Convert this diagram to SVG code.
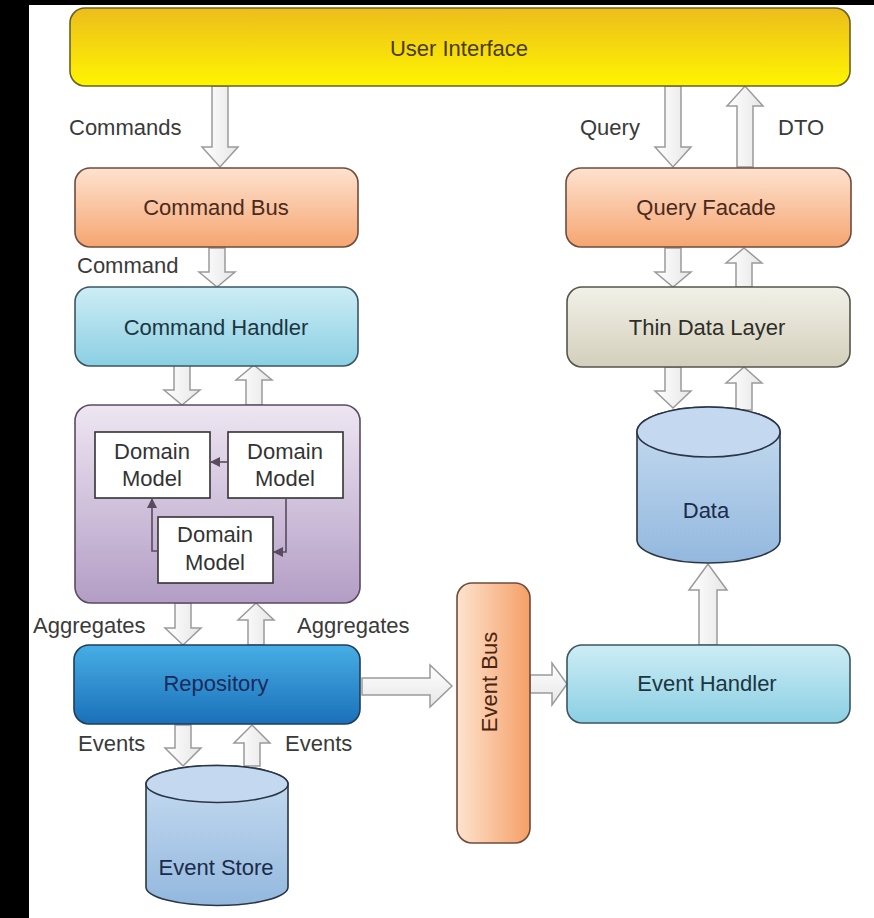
<svg xmlns="http://www.w3.org/2000/svg" width="874" height="918" viewBox="0 0 874 918">
<defs>
<linearGradient id="gUI" x1="0" y1="0" x2="0" y2="1"><stop offset="0" stop-color="#ecbd1c"/><stop offset="1" stop-color="#fff500"/></linearGradient>
<linearGradient id="gOr" x1="0" y1="0" x2="0" y2="1"><stop offset="0" stop-color="#fde2cf"/><stop offset="1" stop-color="#f6a571"/></linearGradient>
<linearGradient id="gOrH" x1="0" y1="0" x2="1" y2="0"><stop offset="0" stop-color="#fde3cf"/><stop offset="1" stop-color="#f59f66"/></linearGradient>
<linearGradient id="gBl" x1="0" y1="0" x2="0" y2="1"><stop offset="0" stop-color="#cdedf5"/><stop offset="1" stop-color="#8bcfe3"/></linearGradient>
<linearGradient id="gTd" x1="0" y1="0" x2="0" y2="1"><stop offset="0" stop-color="#f2f1e8"/><stop offset="1" stop-color="#d3cfbc"/></linearGradient>
<linearGradient id="gPu" x1="0" y1="0" x2="0" y2="1"><stop offset="0" stop-color="#eee6f2"/><stop offset="1" stop-color="#b39dc5"/></linearGradient>
<linearGradient id="gRe" x1="0" y1="0" x2="0" y2="1"><stop offset="0" stop-color="#47aee5"/><stop offset="1" stop-color="#1a70b9"/></linearGradient>
<linearGradient id="gCy" x1="0" y1="0" x2="0" y2="1"><stop offset="0" stop-color="#c9ddf1"/><stop offset="1" stop-color="#93b8de"/></linearGradient>
<linearGradient id="gAr" x1="0" y1="0" x2="1" y2="0"><stop offset="0" stop-color="#ffffff"/><stop offset="1" stop-color="#e6e6e6"/></linearGradient>
<linearGradient id="gArV" x1="0" y1="0" x2="0" y2="1"><stop offset="0" stop-color="#ffffff"/><stop offset="1" stop-color="#e6e6e6"/></linearGradient>
<marker id="mh" viewBox="0 0 10 10" refX="9" refY="5" markerWidth="10" markerHeight="10" markerUnits="userSpaceOnUse" orient="auto"><path d="M0,0 L10,5 L0,10 Z" fill="#5a4a60"/></marker>
</defs>
<style>
text{font-family:"Liberation Sans",Arial,sans-serif;font-size:22px;text-anchor:middle;dominant-baseline:central}
.lbl{fill:#3a3a3a}
.lblL{text-anchor:start}
.box{stroke-width:1.6}
.arr{fill:url(#gAr);stroke:#9a9a9a;stroke-width:1.5}
.arrV{fill:url(#gArV);stroke:#9a9a9a;stroke-width:1.5}
.dm{fill:#ffffff;stroke:#333333;stroke-width:1.6}
.dml{fill:none;stroke:#5a4a60;stroke-width:1.6}
.cyl{fill:url(#gCy);stroke:#2a3645;stroke-width:1.6}
.cyt{fill:#c4d9ef;stroke:#2a3645;stroke-width:1.6}
</style>
<rect x="0" y="0" width="874" height="918" fill="#ffffff"/>
<rect x="0" y="0" width="29" height="918" fill="#000000"/>
<rect x="0" y="0" width="874" height="5" fill="#000000"/>

<g id="connectors">
  <!-- Commands -->
  <polygon class="arr" points="212,86 228,86 228,147 238,147 220,167 202,147 212,147"/>
  <!-- Query -->
  <polygon class="arr" points="665,86 681,86 681,147 691,147 673,167 655,147 665,147"/>
  <!-- DTO up -->
  <polygon class="arr" points="737,167 753,167 753,106 763,106 745,86 727,106 737,106"/>
  <!-- Command -->
  <polygon class="arr" points="209,248 225,248 225,272 235,272 217,287 199,272 209,272"/>
  <!-- QF -> TDL -->
  <polygon class="arr" points="665,248 681,248 681,272 691,272 673,287 655,272 665,272"/>
  <!-- TDL -> QF -->
  <polygon class="arr" points="736,287 752,287 752,263 762,263 744,248 726,263 736,263"/>
  <!-- CH -> Domain -->
  <polygon class="arr" points="174,365 190,365 190,390 200,390 182,405 164,390 174,390"/>
  <!-- Domain -> CH -->
  <polygon class="arr" points="246,405 262,405 262,380 272,380 254,365 236,380 246,380"/>
  <!-- TDL -> Data -->
  <polygon class="arr" points="665,367 681,367 681,391 691,391 673,408 655,391 665,391"/>
  <!-- Data -> TDL -->
  <polygon class="arr" points="736,410 752,410 752,383 762,383 744,367 726,383 736,383"/>
  <!-- Aggregates down -->
  <polygon class="arr" points="175,603 191,603 191,628 201,628 183,645 165,628 175,628"/>
  <!-- Aggregates up -->
  <polygon class="arr" points="248,645 264,645 264,620 274,620 256,603 238,620 248,620"/>
  <!-- Events down -->
  <polygon class="arr" points="175,725 191,725 191,748 201,748 183,766 165,748 175,748"/>
  <!-- Events up -->
  <polygon class="arr" points="244,766 260,766 260,743 270,743 252,725 234,743 244,743"/>
  <!-- Repository -> Event Bus -->
  <polygon class="arrV" points="362,678 430,678 430,665 452,686 430,707 430,695 362,695"/>
  <!-- Event Bus -> Event Handler -->
  <polygon class="arrV" points="530,675 552,675 552,663 567,684 552,705 552,693 530,693"/>
  <!-- Event Handler -> Data -->
  <polygon class="arr" points="699,645 717,645 717,590 727,590 708,564 689,590 699,590"/>
</g>

<g id="user-interface">
  <rect class="box" x="70" y="8" width="780" height="78" rx="15" fill="url(#gUI)" stroke="#6b6123"/>
  <text x="459" y="48" fill="#4a3c12">User Interface</text>
</g>

<g id="labels">
  <text class="lbl lblL" x="69" y="127">Commands</text>
  <text class="lbl lblL" x="580" y="127">Query</text>
  <text class="lbl lblL" x="778" y="127">DTO</text>
  <text class="lbl lblL" x="77" y="265">Command</text>
  <text class="lbl lblL" x="33" y="625">Aggregates</text>
  <text class="lbl lblL" x="297" y="625">Aggregates</text>
  <text class="lbl lblL" x="78" y="743">Events</text>
  <text class="lbl lblL" x="285" y="743">Events</text>
</g>

<g id="command-bus">
  <rect class="box" x="75" y="168" width="283" height="79" rx="15" fill="url(#gOr)" stroke="#6e4c3c"/>
  <text x="216" y="207" fill="#4a2a1c">Command Bus</text>
</g>

<g id="command-handler">
  <rect class="box" x="75" y="287" width="283" height="79" rx="15" fill="url(#gBl)" stroke="#3b5661"/>
  <text x="216" y="327" fill="#1c3641">Command Handler</text>
</g>

<g id="aggregates">
  <rect class="box" x="75" y="405" width="285" height="198" rx="16" fill="url(#gPu)" stroke="#5a4a62"/>
</g>

<g id="domain-model-1">
  <rect class="dm" x="95" y="432" width="115" height="66"/>
  <text x="152" y="451" fill="#333333">Domain</text>
  <text x="152" y="478" fill="#333333">Model</text>
</g>
<g id="domain-model-2">
  <rect class="dm" x="228" y="432" width="115" height="66"/>
  <text x="285" y="451" fill="#333333">Domain</text>
  <text x="285" y="478" fill="#333333">Model</text>
</g>
<g id="domain-model-3">
  <rect class="dm" x="158" y="517" width="115" height="66"/>
  <text x="215" y="534" fill="#333333">Domain</text>
  <text x="215" y="562" fill="#333333">Model</text>
</g>
<g id="domain-links">
  <path class="dml" d="M228,462 H211" marker-end="url(#mh)"/>
  <path class="dml" d="M286,498 V552 H274" marker-end="url(#mh)"/>
  <path class="dml" d="M158,551 H152 V499" marker-end="url(#mh)"/>
</g>

<g id="repository">
  <rect class="box" x="74" y="645" width="286" height="79" rx="15" fill="url(#gRe)" stroke="#1f3d5c"/>
  <text x="216" y="683" fill="#1b2b5c">Repository</text>
</g>

<g id="event-store">
  <path class="cyl" d="M146,784 A71,18.5 0 0 1 288,784 V887 A71,18.5 0 0 1 146,887 Z"/>
  <ellipse class="cyt" cx="217" cy="784" rx="71" ry="18.5"/>
  <text x="216" y="867" fill="#1b2b4a">Event Store</text>
</g>

<g id="event-bus">
  <rect class="box" x="457" y="583" width="73" height="260" rx="15" fill="url(#gOrH)" stroke="#6e4c3c"/>
  <text transform="translate(489,682) rotate(-90)" x="0" y="0" fill="#4a2412" font-size="23">Event Bus</text>
</g>

<g id="event-handler">
  <rect class="box" x="567" y="645" width="283" height="78" rx="15" fill="url(#gBl)" stroke="#3b5661"/>
  <text x="707" y="683" fill="#1c3641">Event Handler</text>
</g>

<g id="query-facade">
  <rect class="box" x="566" y="168" width="285" height="79" rx="15" fill="url(#gOr)" stroke="#6e4c3c"/>
  <text x="706" y="207" fill="#4a2a1c">Query Facade</text>
</g>

<g id="thin-data-layer">
  <rect class="box" x="567" y="287" width="283" height="80" rx="15" fill="url(#gTd)" stroke="#55554a"/>
  <text x="707" y="327" fill="#2e2e28">Thin Data Layer</text>
</g>

<g id="data">
  <path class="cyl" d="M637,432 A71.5,25 0 0 1 780,432 V540 A71.5,23 0 0 1 637,540 Z"/>
  <ellipse class="cyt" cx="708.5" cy="432" rx="71.5" ry="25"/>
  <text x="706" y="510" fill="#1b2b4a">Data</text>
</g>
</svg>
